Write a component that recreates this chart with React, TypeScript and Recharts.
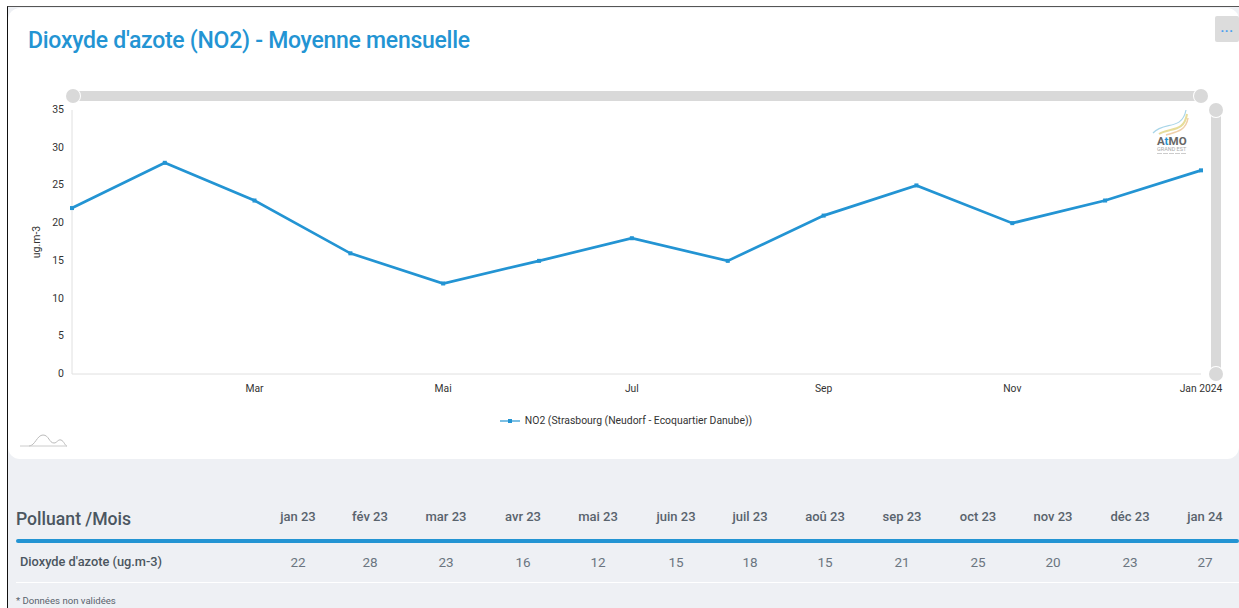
import React from 'react';
import { LineChart, Line, XAxis, YAxis, Legend } from 'recharts';

const pointDates = [
  '2023-01-01', '2023-01-31', '2023-03-01', '2023-04-01', '2023-05-01', '2023-06-01', '2023-07-01',
  '2023-08-01', '2023-09-01', '2023-10-01', '2023-11-01', '2023-12-01', '2024-01-01',
];
const no2Values = [22, 28, 23, 16, 12, 15, 18, 15, 21, 25, 20, 23, 27];
const monthLabels = [
  'jan 23', 'fév 23', 'mar 23', 'avr 23', 'mai 23', 'juin 23', 'juil 23',
  'aoû 23', 'sep 23', 'oct 23', 'nov 23', 'déc 23', 'jan 24',
];
const xTickDates = ['2023-03-01', '2023-05-01', '2023-07-01', '2023-09-01', '2023-11-01', '2024-01-01'];
const xTickLabels = ['Mar', 'Mai', 'Jul', 'Sep', 'Nov', 'Jan 2024'];
const yTicks = [0, 5, 10, 15, 20, 25, 30, 35];

const seriesName = 'NO2 (Strasbourg (Neudorf - Ecoquartier Danube))';
const BLUE = '#2394d3';
const SLIDER = '#d9d9d9';
const PANEL = '#eef0f4';
const FONT = 'Roboto, sans-serif';

const toTime = (d: string) => new Date(d + 'T00:00:00Z').getTime();
const chartData = pointDates.map((d, i) => ({ time: toTime(d), no2: no2Values[i] }));
const xTicks = xTickDates.map(toTime);

const columnCenters = [298, 370, 446, 523, 598, 676, 750, 825, 902, 978, 1053, 1130, 1205];

function SquareDot({ cx, cy }: any) {
  return <rect x={cx - 2} y={cy - 2} width={4} height={4} fill={BLUE} />;
}

function LegendContent() {
  return (
    <div style={{ display: 'flex', justifyContent: 'center', alignItems: 'center', fontFamily: FONT, fontSize: 10.4, color: '#333' }}>
      <svg width={20} height={8} style={{ marginRight: 5 }}>
        <line x1={0} y1={4} x2={20} y2={4} stroke={BLUE} strokeWidth={1.2} />
        <rect x={8} y={2} width={4} height={4} fill={BLUE} />
      </svg>
      <span>{seriesName}</span>
    </div>
  );
}

function Handle({ x, y }: { x: number; y: number }) {
  return (
    <div style={{
      position: 'absolute', left: x - 7, top: y - 7, width: 14, height: 14,
      borderRadius: '50%', background: SLIDER, boxShadow: '0 0 0 1px #fff',
    }} />
  );
}

function Logo() {
  return (
    <svg width={44} height={48} style={{ position: 'absolute', left: 1150, top: 109 }}>
      <path d="M3 24 C14 12 32 22 36 1" fill="none" stroke="#a8d5e8" strokeWidth={1.2} />
      <path d="M9 25 C20 18 34 24 37 5" fill="none" stroke="#e6dd9a" strokeWidth={2} />
      <path d="M16 26 C26 23 36 22 38 9" fill="none" stroke="#f0cfa8" strokeWidth={1.5} />
      <text x={7} y={36} fontFamily={FONT} fontSize={11.5} fontWeight={700} fill="#666">A</text>
      <text x={14.6} y={36} fontFamily={FONT} fontSize={11.5} fontWeight={700} fill={BLUE}>t</text>
      <text x={18.6} y={36} fontFamily={FONT} fontSize={11.5} fontWeight={700} fill="#666">MO</text>
      <text x={7} y={42} fontFamily={FONT} fontSize={5.5} fill="#aaa">GRAND EST</text>
      <line x1={7} y1={44.5} x2={36} y2={44.5} stroke="#ccc" strokeWidth={1} strokeDasharray="5 1" />
    </svg>
  );
}

function TableRow({ first, cells, cellStyle, firstStyle, top, height }: any) {
  return (
    <div style={{ position: 'absolute', left: 0, top, width: 1239, height, lineHeight: `${height}px`, fontFamily: FONT }}>
      <div style={{ position: 'absolute', left: 16, whiteSpace: 'nowrap', ...firstStyle }}>{first}</div>
      {cells.map((c: any, i: number) => (
        <div key={i} style={{ position: 'absolute', left: columnCenters[i], transform: 'translateX(-50%)', whiteSpace: 'nowrap', ...cellStyle }}>{c}</div>
      ))}
    </div>
  );
}

export default function App() {
  return (
    <div style={{ position: 'fixed', left: 0, top: 0, width: 1239, height: 608, background: '#fff', overflow: 'hidden' }}>
      {/* page frame and panels */}
      <div style={{ position: 'absolute', left: 7, top: 6, width: 1232, height: 602, background: PANEL, borderLeft: '1px solid #111', borderTop: '1.5px solid #555', boxSizing: 'border-box' }} />
      <div style={{ position: 'absolute', left: 8, top: 8, width: 1231, height: 451, background: '#fff', borderRadius: 12 }} />

      <div style={{ position: 'absolute', left: 28, top: 27, fontFamily: FONT, fontSize: 23, fontWeight: 500, color: BLUE, letterSpacing: -0.27, whiteSpace: 'nowrap' }}>
        Dioxyde d'azote (NO2) - Moyenne mensuelle
      </div>

      <div style={{ position: 'absolute', left: 1215, top: 16, width: 24, height: 26, background: '#dcdcdc', borderRadius: 2, color: '#4a9ff0', fontFamily: FONT, fontSize: 13, fontWeight: 700, letterSpacing: 0.5, textAlign: 'center', lineHeight: '24px' }}>...</div>

      <div style={{ position: 'absolute', left: 0, top: 0 }}>
        <LineChart width={1239} height={440} data={chartData} margin={{ top: 110, right: 38, bottom: 23, left: 0 }}>
          <XAxis
            dataKey="time"
            type="number"
            scale="time"
            domain={[chartData[0].time, chartData[chartData.length - 1].time]}
            ticks={xTicks}
            tickFormatter={(t: number) => xTickLabels[xTicks.indexOf(t)]}
            interval={0}
            tickLine={false}
            tickSize={0}
            tickMargin={10.5}
            height={30}
            axisLine={{ stroke: '#e0e0e0' }}
            tick={{ fontFamily: FONT, fontSize: 10.3, fill: '#333' }}
          />
          <YAxis
            width={72}
            domain={[0, 35]}
            ticks={yTicks}
            interval={0}
            tickLine={false}
            tickSize={0}
            tickMargin={8}
            axisLine={{ stroke: '#e0e0e0' }}
            tick={{ fontFamily: FONT, fontSize: 10.5, fill: '#333', dy: -0.7 }}
            label={{ value: 'ug.m-3', angle: -90, position: 'insideLeft', offset: 36, style: { fontFamily: FONT, fontSize: 10.5, fill: '#333', textAnchor: 'middle' } }}
          />
          <Legend verticalAlign="bottom" content={<LegendContent />} wrapperStyle={{ left: 0, width: 1252, bottom: 13 }} />
          <Line
            dataKey="no2"
            name={seriesName}
            stroke={BLUE}
            strokeWidth={2.7}
            dot={<SquareDot />}
            activeDot={false}
            isAnimationActive={false}
          />
        </LineChart>
      </div>

      {/* zoom sliders */}
      <div style={{ position: 'absolute', left: 73, top: 91, width: 1128, height: 10, background: SLIDER }} />
      <Handle x={73} y={96} />
      <Handle x={1201} y={96} />
      <div style={{ position: 'absolute', left: 1210.5, top: 110, width: 10, height: 264, background: SLIDER }} />
      <Handle x={1215.5} y={110} />
      <Handle x={1215.5} y={374} />

      <Logo />

      <svg width={50} height={16} style={{ position: 'absolute', left: 19, top: 433 }}>
        <path d="M10 13 C16 13 18 2 24 2 C30 2 30 10 35 10 C38 10 39 6 42 7 C45 8 46 13 48 13" fill="none" stroke="#bbb" strokeWidth={1} />
        <line x1={1} y1={13} x2={48} y2={13} stroke="#ccc" strokeWidth={1} />
      </svg>

      {/* monthly table */}
      <TableRow
        top={505} height={28}
        first="Polluant /Mois"
        firstStyle={{ fontSize: 17.6, fontWeight: 500, color: '#4b5660' }}
        cells={monthLabels}
        cellStyle={{ fontSize: 13, fontWeight: 500, color: '#59636d', top: -2 }}
      />
      <div style={{ position: 'absolute', left: 16, top: 539, width: 1223, height: 4, background: BLUE, borderRadius: 2 }} />
      <TableRow
        top={550} height={24}
        first={<span style={{ marginLeft: 4 }}>Dioxyde d'azote (ug.m-3)</span>}
        firstStyle={{ fontSize: 12.8, fontWeight: 500, color: '#4b5660' }}
        cells={no2Values}
        cellStyle={{ fontSize: 13.5, color: '#6b7580' }}
      />
      <div style={{ position: 'absolute', left: 16, top: 582, width: 1223, height: 1, background: '#fff' }} />
      <div style={{ position: 'absolute', left: 16, top: 595, fontFamily: FONT, fontSize: 9.6, color: '#59636d' }}>* Données non validées</div>
    </div>
  );
}
